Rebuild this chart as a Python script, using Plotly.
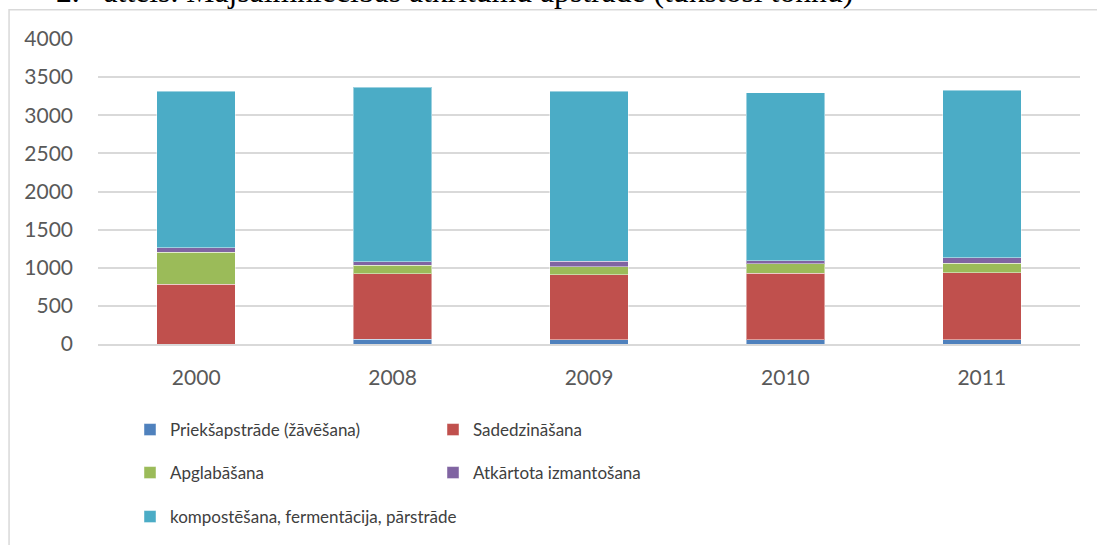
import plotly.graph_objects as go

years = ["2000", "2008", "2009", "2010", "2011"]
series_names = [
    "Priekšapstrāde (žāvēšana)",
    "Sadedzināšana",
    "Apglabāšana",
    "Atkārtota izmantošana",
    "kompostēšana, fermentācija, pārstrāde",
]
priekssapstrade = [0, 65, 55, 55, 55]
sadedzinasana = [785, 857, 850, 872, 880]
apglabasana = [420, 114, 109, 126, 127]
atkartota = [58, 43, 74, 39, 66]
kompostesana = [2050, 2290, 2230, 2200, 2200]
series_values = [priekssapstrade, sadedzinasana, apglabasana, atkartota, kompostesana]
colors = ["#4F81BD", "#C0504D", "#9BBB59", "#8064A2", "#4BACC6"]
legend_ids = ["legend", "legend", "legend2", "legend2", "legend3"]
y_ticks = [0, 500, 1000, 1500, 2000, 2500, 3000, 3500, 4000]
title_text = "2.   attēls. Mājsaimniecības atkritumu apstrāde (tūkstoši tonnu)"

# page body margin is removed by post_script, so figure sits at (0, 0)
OFF = 0
W, H = 1097, 545
# target plot area in screenshot pixels
X0, X1, Y0, Y1 = 97.5, 1080, 38.5, 344
L, T = X0 - OFF, Y0 - OFF
R = W - X1
B = H - (Y1 - OFF)
ph = H - T - B
pw = W - L - R

def py(pix):
    return (Y1 - pix) / ph

def px(pix):
    return (pix - X0) / pw

def cy(pix):
    return 1 - (pix - OFF) / H

def cx(pix):
    return (pix - OFF) / W

FONT = "Lato, Liberation Sans, Arial"
fig = go.Figure()
for name, vals, col, lg in zip(series_names, series_values, colors, legend_ids):
    fig.add_trace(go.Bar(
        x=years, y=vals, name=name, legend=lg,
        marker=dict(color=col, line=dict(color="rgba(255,255,255,0.45)", width=1)),
    ))

leg_common = dict(
    orientation="h", xanchor="left", yanchor="middle",
    xref="container", yref="container", traceorder="normal",
    entrywidthmode="pixels",
    font=dict(family=FONT, size=17, color="#404040"),
    bgcolor="rgba(0,0,0,0)", itemclick=False, itemdoubleclick=False,
)

fig.update_layout(
    width=W, height=H,
    margin=dict(l=L, r=R, t=T, b=B, pad=0, autoexpand=False),
    paper_bgcolor="white", plot_bgcolor="white",
    barmode="stack", bargap=0.6,
    showlegend=True,
    legend=dict(x=cx(130), y=cy(430), entrywidth=258, **leg_common),
    legend2=dict(x=cx(130), y=cy(473), entrywidth=258, **leg_common),
    legend3=dict(x=cx(130), y=cy(517), entrywidth=0, **leg_common),
    xaxis=dict(
        showgrid=False, showline=True, linecolor="#d9d9d9", linewidth=1.5,
        ticks="", tickfont=dict(family=FONT, size=21, color="#595959"),
        ticklabelstandoff=14,
    ),
    yaxis=dict(
        range=[0, 4000], tickvals=y_ticks, showgrid=True, gridcolor="#d9d9d9",
        gridwidth=1.5, zeroline=False, showline=False, ticks="",
        tickfont=dict(family=FONT, size=21, color="#595959"),
        ticklabelstandoff=24,
    ),
    shapes=[dict(type="rect", xref="paper", yref="paper",
                 x0=px(8.5), x1=px(1120), y0=py(570), y1=py(9.3),
                 line=dict(color="#d9d9d9", width=1.5), fillcolor="rgba(0,0,0,0)",
                 layer="below")],
    annotations=[dict(text=title_text, xref="paper", yref="paper",
                      x=px(53), y=py(10.5), xanchor="left", yanchor="bottom",
                      showarrow=False,
                      font=dict(family="Liberation Serif, Times New Roman", size=31.7, color="black"))],
)

fig.write_html("out.html",
               config={"displayModeBar": False},
               post_script="document.body.style.margin='0';document.body.style.overflow='hidden';")
